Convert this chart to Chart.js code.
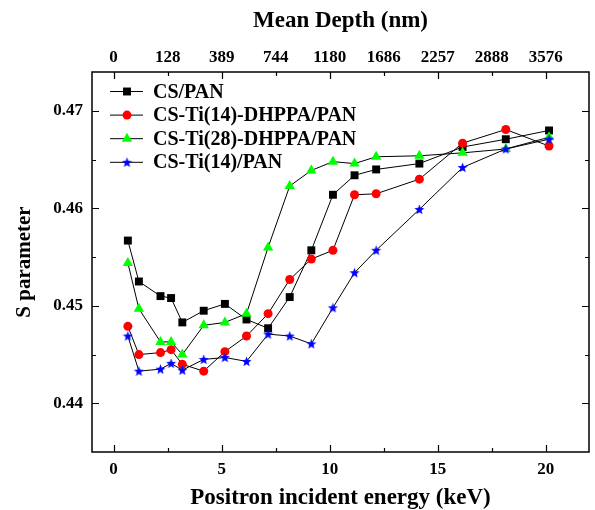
<!DOCTYPE html>
<html>
<head>
<meta charset="utf-8">
<script src="https://cdn.jsdelivr.net/npm/chart.js@4/dist/chart.umd.min.js"></script>
<style>
  html, body { margin: 0; padding: 0; background: #fff; }
  #wrap { width: 595px; height: 510px; }
</style>
</head>
<body>
<div id="wrap"><canvas id="chart"></canvas></div>
<script>
// positron energy (keV) for every measured point
const energy = [0.66, 1.17, 2.17, 2.66, 3.18, 4.17, 5.15, 6.15, 7.15, 8.15, 9.15, 10.15, 11.15, 12.15, 14.15, 16.15, 18.15, 20.15];

// S parameter
const csPan       = [0.4567, 0.4525, 0.4510, 0.4508, 0.4483, 0.4495, 0.4502, 0.4486, 0.4477, 0.4509, 0.4557, 0.4614, 0.4634, 0.4640, 0.4646, 0.4663, 0.4671, 0.4680];
const csTi14Dhppa = [0.4479, 0.4450, 0.4452, 0.4455, 0.4440, 0.4433, 0.4453, 0.4469, 0.4492, 0.4527, 0.4548, 0.4557, 0.4614, 0.4615, 0.4630, 0.4667, 0.4681, 0.4664];
const csTi28Dhppa = [0.4544, 0.4497, 0.4463, 0.4463, 0.4450, 0.4480, 0.4483, 0.4492, 0.4560, 0.4623, 0.4639, 0.4648, 0.4646, 0.4653, 0.4654, 0.4657, 0.4661, 0.4673];
const csTi14      = [0.4469, 0.4433, 0.4435, 0.4441, 0.4434, 0.4445, 0.4447, 0.4443, 0.4471, 0.4469, 0.4461, 0.4498, 0.4534, 0.4557, 0.4599, 0.4642, 0.4661, 0.4671];

const seriesNames = ['CS/PAN', 'CS-Ti(14)-DHPPA/PAN', 'CS-Ti(28)-DHPPA/PAN', 'CS-Ti(14)/PAN'];

// tick labels
const energyTicks = [0, 5, 10, 15, 20];
const depthTicks = [0, 2.5, 5, 7.5, 10, 12.5, 15, 17.5, 20];
const depthLabels = ['0', '128', '389', '744', '1180', '1686', '2257', '2888', '3576'];
const sTicks = [0.44, 0.45, 0.46, 0.47];

const SERIF = "'Liberation Serif', 'Times New Roman', serif";

function starImage(color, size) {
  const c = document.createElement('canvas');
  c.width = c.height = size;
  const g = c.getContext('2d');
  const cx = size / 2, cy = size / 2 + 0.4, R = size / 2 - 0.2, r = R * 0.42;
  g.beginPath();
  for (let i = 0; i < 10; i++) {
    const ang = -Math.PI / 2 + i * Math.PI / 5;
    const rad = i % 2 ? r : R;
    g.lineTo(cx + rad * Math.cos(ang), cy + rad * Math.sin(ang));
  }
  g.closePath();
  g.fillStyle = color;
  g.fill();
  return c;
}
const starIcon = starImage('#0000ff', 11);

function pts(ys) {
  return ys.map((y, i) => ({ x: energy[i], y: y }));
}

function series(label, ys, color, style, radius, order) {
  return {
    label: label,
    data: pts(ys),
    borderColor: '#000',
    borderWidth: 1,
    backgroundColor: color,
    pointBackgroundColor: color,
    pointBorderColor: color,
    pointBorderWidth: 0,
    pointStyle: style,
    pointRadius: radius,
    pointHoverRadius: radius,
    tension: 0,
    fill: false,
    order: order
  };
}

// box round the plot, with inward ticks on all four sides
const frameTicks = {
  id: 'frameTicks',
  afterDraw(chart) {
    const { ctx, chartArea: a, scales } = chart;
    ctx.save();
    ctx.strokeStyle = '#000';
    ctx.lineWidth = 1.5;
    ctx.strokeRect(a.left, a.top, a.right - a.left, a.bottom - a.top);
    ctx.lineWidth = 1.2;
    ctx.beginPath();
    for (let v = 0; v <= 20; v += 2.5) {
      const len = v % 5 === 0 ? 7 : 4;
      const px = Math.round(scales.x.getPixelForValue(v)) + 0.5;
      ctx.moveTo(px, a.bottom); ctx.lineTo(px, a.bottom - len);
      ctx.moveTo(px, a.top); ctx.lineTo(px, a.top + len);
    }
    for (let i = 0; i <= 6; i++) {
      const v = 0.44 + i * 0.005;
      const len = i % 2 === 0 ? 7 : 4;
      const py = Math.round(scales.y.getPixelForValue(v)) + 0.5;
      ctx.moveTo(a.left, py); ctx.lineTo(a.left + len, py);
      ctx.moveTo(a.right, py); ctx.lineTo(a.right - len, py);
    }
    ctx.stroke();
    ctx.restore();
  }
};

// legend: short line with the marker on it, then the name
const lineLegend = {
  id: 'lineLegend',
  afterDraw(chart) {
    const { ctx, chartArea: a } = chart;
    ctx.save();
    chart.data.datasets.forEach((ds, i) => {
      const y = a.top + 19.5 + i * 23.6;
      const x0 = a.left + 18, x1 = a.left + 51, xm = a.left + 35;
      ctx.strokeStyle = '#000';
      ctx.lineWidth = 1;
      ctx.beginPath();
      ctx.moveTo(x0, y); ctx.lineTo(x1, y);
      ctx.stroke();
      ctx.fillStyle = ds.pointBackgroundColor;
      Chart.helpers.drawPoint(ctx, { pointStyle: ds.pointStyle, radius: ds.pointRadius, rotation: 0, borderWidth: 0 }, xm, y);
      ctx.fillStyle = '#000';
      ctx.font = 'bold 20px ' + SERIF;
      ctx.textAlign = 'left';
      ctx.textBaseline = 'middle';
      ctx.fillText(ds.label, a.left + 61, y + 1);
    });
    ctx.restore();
  }
};

const tickFont = { family: SERIF, size: 17, weight: 'bold' };
const titleFont = { family: SERIF, size: 23, weight: 'bold', lineHeight: 1 };

new Chart(document.getElementById('chart'), {
  type: 'line',
  data: {
    datasets: [
      series(seriesNames[0], csPan, '#000000', 'rect', 5.6, 4),
      series(seriesNames[1], csTi14Dhppa, '#ff0000', 'circle', 4.5, 3),
      series(seriesNames[2], csTi28Dhppa, '#00ff00', 'triangle', 6, 2),
      series(seriesNames[3], csTi14, '#0000ff', starIcon, 5.5, 1)
    ]
  },
  options: {
    responsive: true,
    maintainAspectRatio: false,
    animation: false,
    layout: { padding: { left: 0, right: 6, top: 0, bottom: 0 } },
    plugins: {
      legend: { display: false },
      tooltip: { enabled: false }
    },
    scales: {
      x: {
        type: 'linear',
        position: 'bottom',
        min: -1,
        max: 22,
        afterBuildTicks: s => { s.ticks = energyTicks.map(v => ({ value: v })); },
        afterFit: s => { s.height = 58; },
        grid: { display: false, drawTicks: false },
        border: { display: false },
        ticks: { font: tickFont, color: '#000', padding: 7, maxRotation: 0, autoSkip: false, callback: v => String(v) },
        title: { display: true, text: 'Positron incident energy (keV)', font: titleFont, color: '#000', padding: { top: 0, bottom: 0 } }
      },
      x2: {
        type: 'linear',
        position: 'top',
        min: -1,
        max: 22,
        afterBuildTicks: s => { s.ticks = depthTicks.map(v => ({ value: v })); },
        afterFit: s => { s.height = 72; },
        grid: { display: false, drawTicks: false },
        border: { display: false },
        ticks: { font: tickFont, color: '#000', padding: 4, maxRotation: 0, autoSkip: false, callback: (v, i) => depthLabels[i] },
        title: { display: true, text: 'Mean Depth (nm)', font: titleFont, color: '#000', padding: { top: 9.5, bottom: 0 } }
      },
      y: {
        type: 'linear',
        position: 'left',
        min: 0.435,
        max: 0.474,
        afterBuildTicks: s => { s.ticks = sTicks.map(v => ({ value: v })); },
        afterFit: s => { s.width = 92; },
        grid: { display: false, drawTicks: false },
        border: { display: false },
        ticks: { font: tickFont, color: '#000', padding: 9, callback: v => v.toFixed(2) },
        title: { display: true, text: 'S parameter', font: { family: SERIF, size: 21, weight: 'bold', lineHeight: 1 }, color: '#000', padding: { top: 14, bottom: 0 } }
      }
    }
  },
  plugins: [frameTicks, lineLegend]
});
</script>
</body>
</html>
